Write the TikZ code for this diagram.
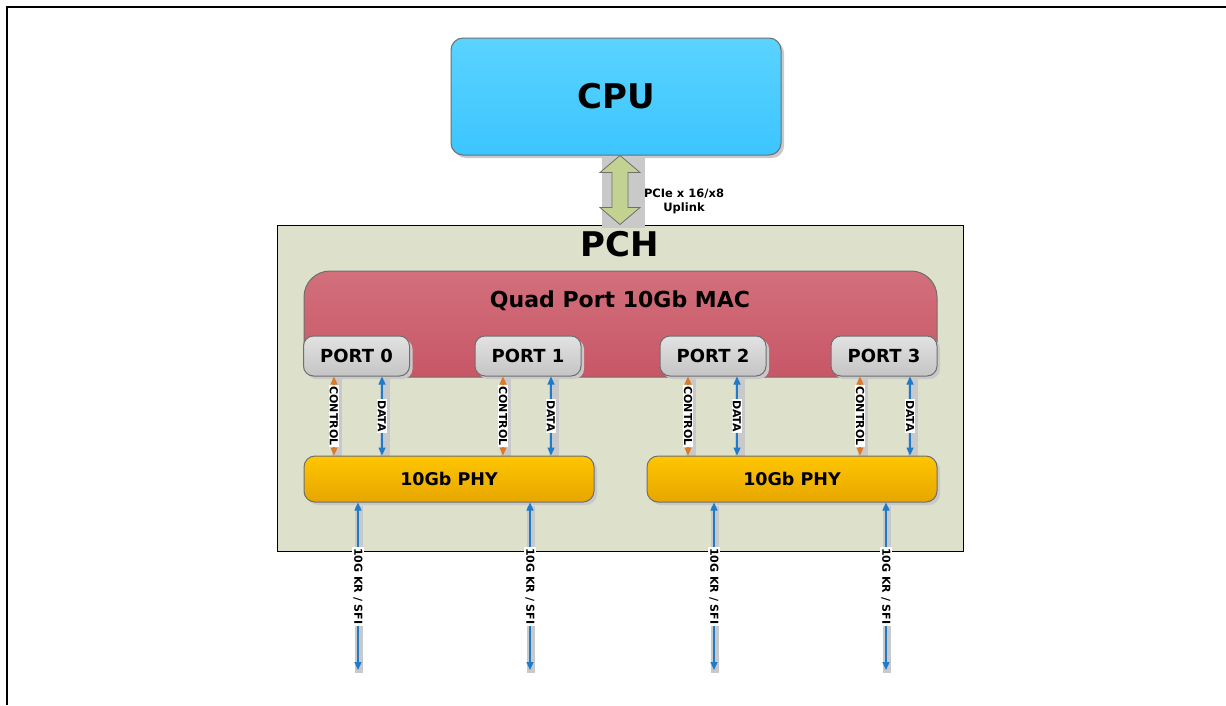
\documentclass[tikz,border=0pt]{standalone}
\usepackage{fontspec}
\setmainfont{DejaVu Sans}
\usetikzlibrary{arrows.meta,calc,shadows}
\definecolor{cpuTop}{HTML}{5AD3FF}
\definecolor{cpuBot}{HTML}{3CC5FF}
\definecolor{macTop}{HTML}{D2707C}
\definecolor{macBot}{HTML}{C85666}
\definecolor{portTop}{HTML}{E2E2E2}
\definecolor{portBot}{HTML}{C4C4C4}
\definecolor{phyTop}{HTML}{FFC600}
\definecolor{phyBot}{HTML}{E6A600}
\definecolor{pchFill}{HTML}{DDE1CB}
\definecolor{pcieFill}{HTML}{C4D291}
\definecolor{ctlOrange}{HTML}{DB7A2A}
\definecolor{dataBlue}{HTML}{1E7ACB}
\definecolor{bandGray}{HTML}{C9C9C9}
\definecolor{edgeGray}{HTML}{6E6E6E}
\pgfdeclarelayer{back}
\pgfdeclarelayer{bands}
\pgfsetlayers{back,bands,main}
\tikzset{
  shad/.style={general shadow={shadow xshift=3pt, shadow yshift=-3pt, fill=bandGray}},
  cpubox/.style={draw=edgeGray, line width=1pt, rounded corners=12pt, top color=cpuTop, bottom color=cpuBot, shad,
    minimum width=330pt, minimum height=117pt, inner sep=0pt, font=\bfseries\fontsize{34}{36}\selectfont},
  pchbox/.style={draw=black, line width=1pt, fill=pchFill, minimum width=686pt, minimum height=326pt, inner sep=0pt},
  macbox/.style={draw=edgeGray, line width=1pt, rounded corners=26pt, top color=macTop, bottom color=macBot,
    minimum width=633pt, minimum height=106pt, inner sep=0pt},
  portbox/.style={draw=edgeGray, line width=1pt, rounded corners=10pt, top color=portTop, bottom color=portBot, shad,
    minimum width=106pt, minimum height=40pt, inner sep=0pt, font=\bfseries\fontsize{18}{20}\selectfont},
  phybox/.style={draw=edgeGray, line width=1pt, rounded corners=11pt, top color=phyTop, bottom color=phyBot, shad,
    minimum width=290pt, minimum height=46pt, inner sep=0pt, font=\bfseries\fontsize{17.5}{20}\selectfont},
  ctl/.style={ctlOrange, line width=1.2pt, {Triangle[length=8pt,width=7pt]}-{Triangle[length=8pt,width=7pt]}},
  dat/.style={dataBlue, line width=1.2pt, {Triangle[length=8pt,width=7pt]}-{Triangle[length=8pt,width=7pt]}},
  band/.style={fill=bandGray, draw=none},
  lbl/.style={fill=white, inner sep=1.2pt, rotate=-90, text=black, font=\bfseries\fontsize{11}{12}\selectfont},
  pcie/.style={fill=pcieFill, draw=edgeGray, line width=0.8pt},
}
\begin{document}
\begin{tikzpicture}[x=1pt,y=-1pt]
\useasboundingbox (0,0) rectangle (1226,705);
\begin{pgfonlayer}{back}
\fill[white] (0,0) rectangle (1226,705);
\end{pgfonlayer}
\draw[line width=2pt] (7,705) -- (7,7) -- (1226,7);

% main boxes
\begin{pgfonlayer}{back}
\node[pchbox] (pch) at (620,388) {};
\end{pgfonlayer}
\node[cpubox] (cpu) at (616,96.5) {CPU};
\node[font=\bfseries\fontsize{34}{36}\selectfont] (pchlbl) at (620,244) {PCH};
\node[macbox] (mac) at (620.5,324) {};
\node[font=\bfseries\fontsize{22}{24}\selectfont] (maclbl) at (620,301) {Quad Port 10Gb MAC};

\node[portbox] (p0) at (356.5,356) {PORT 0};
\node[portbox] (p1) at (528,356) {PORT 1};
\node[portbox] (p2) at (713,356) {PORT 2};
\node[portbox] (p3) at (884,356) {PORT 3};

\node[phybox] (phyA) at (449,479) {10Gb PHY};
\node[phybox] (phyB) at (792,479) {10Gb PHY};

% PCIe uplink double arrow
\coordinate (u) at (620,0);
\begin{pgfonlayer}{bands}
\fill[band] ($(u |- cpu.south)+(-18,0)$) rectangle ($(u |- pch.north)+(25,3)$);
\end{pgfonlayer}
\filldraw[pcie] (u |- cpu.south) -- ++(20,17) -- ++(-12,0) -- ($(u |- pch.north)+(8,-17)$) -- ++(12,0)
  -- (u |- pch.north) -- ++(-20,-17) -- ++(12,0) -- ($(u |- cpu.south)+(-8,17)$) -- ++(-12,0) -- cycle;
\node[font=\bfseries\fontsize{11.5}{14}\selectfont, align=center] (pcielbl) at (684,201) {PCIe x 16/x8\\Uplink};

% control / data arrows
\foreach \p/\phy/\cx/\dx in {p0/phyA/334/382, p1/phyA/503/551, p2/phyB/688/737, p3/phyB/860/910}{
  \coordinate (c\p) at (\cx,0);
  \coordinate (d\p) at (\dx,0);
  \begin{pgfonlayer}{bands}
    \fill[band] ($(c\p |- \p.south)+(-2,0)$) rectangle ($(c\p |- \phy.north)+(8,4)$);
    \fill[band] ($(d\p |- \p.south)+(-2,0)$) rectangle ($(d\p |- \phy.north)+(8,4)$);
  \end{pgfonlayer}
  \draw[ctl] (c\p |- \p.south) -- node[lbl] {CONTROL} (c\p |- \phy.north);
  \draw[dat] (d\p |- \p.south) -- node[lbl] {DATA} (d\p |- \phy.north);
}

% external links
\foreach \i/\phy/\x in {0/phyA/358, 1/phyA/530, 2/phyB/714, 3/phyB/886}{
  \coordinate (e\i) at (\x,670);
  \fill[band] ($(e\i |- \phy.south)+(-3,3)$) rectangle ($(e\i)+(5,3)$);
  \draw[dat] (e\i |- \phy.south) -- node[lbl] {10G KR / SFI} (e\i);
}
\end{tikzpicture}
\end{document}
